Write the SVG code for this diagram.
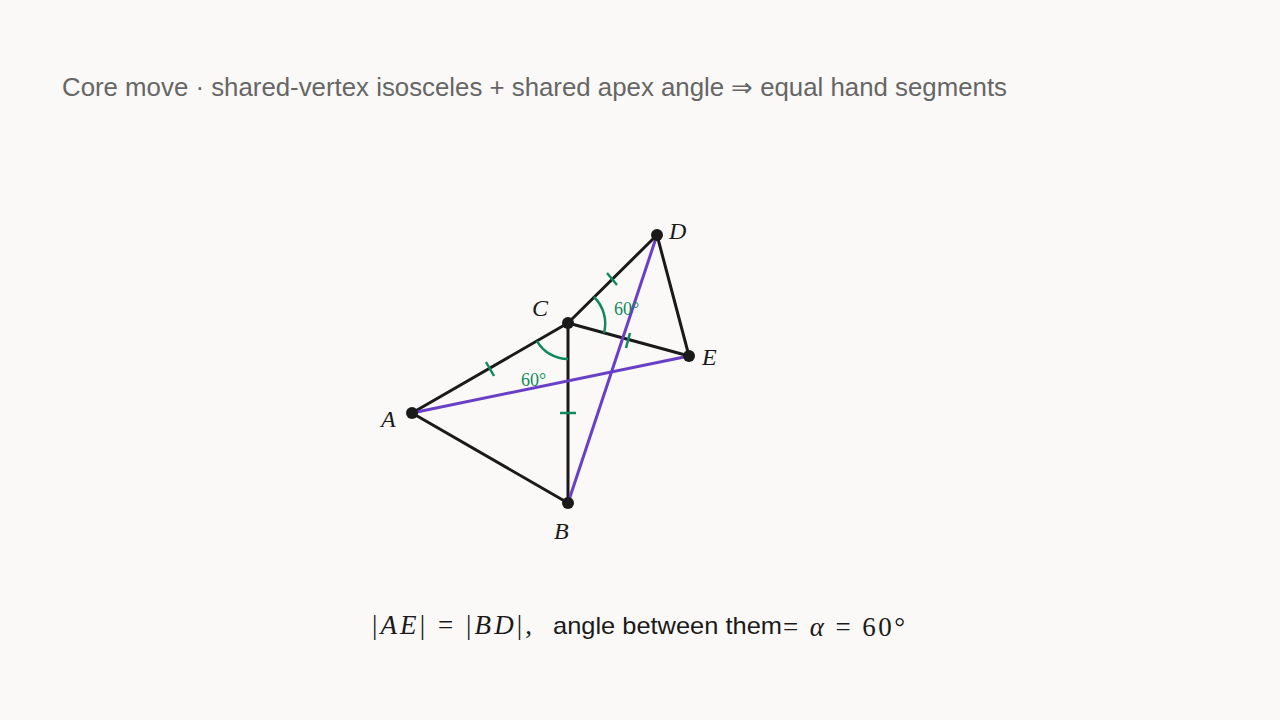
<svg xmlns="http://www.w3.org/2000/svg" width="1280" height="720" viewBox="0 0 1280 720">
<style>
.e{stroke:#1a1a1a;stroke-width:3;fill:none;stroke-linecap:round}
.p{stroke:#6a3fc8;stroke-width:3;fill:none;stroke-linecap:round}
.g{stroke:#0f8a5f;stroke-width:2.5;fill:none}
.pt{fill:#1a1a1a}
.lb{font-family:"Liberation Serif",serif;font-style:italic;font-size:24px;fill:#1a1a1a}
.ang{font-family:"Liberation Serif",serif;font-size:18px;fill:#0f8a5f}
</style>
<rect width="1280" height="720" fill="#faf9f7"/>
<text x="62" y="96" font-family="Liberation Sans, sans-serif" font-size="25" fill="#666" textLength="945" lengthAdjust="spacingAndGlyphs">Core move · shared-vertex isosceles + shared apex angle ⇒ equal hand segments</text>
<g id="connectors">
<line class="e" x1="412" y1="413" x2="568" y2="323"/>
<line class="e" x1="412" y1="413" x2="568" y2="503"/>
<line class="e" x1="568" y1="323" x2="568" y2="503"/>
<line class="e" x1="568" y1="323" x2="657" y2="235"/>
<line class="e" x1="568" y1="323" x2="689" y2="356"/>
<line class="e" x1="657" y1="235" x2="689" y2="356"/>
<line class="p" x1="412" y1="413" x2="689" y2="356"/>
<line class="p" x1="568" y1="503" x2="657" y2="235"/>
<path class="g" d="M537,341 A36,36 0 0 0 568,359"/>
<path class="g" d="M594,297 A37,37 0 0 1 604,333"/>
<line class="g" x1="486" y1="362" x2="494" y2="376"/>
<line class="g" x1="607" y1="273" x2="617" y2="285"/>
<line class="g" x1="630" y1="333" x2="626" y2="348"/>
<line class="g" x1="560" y1="413" x2="576" y2="413"/>
</g>
<g id="A"><circle class="pt" cx="412" cy="413" r="6"/><text class="lb" x="381" y="427">A</text></g>
<g id="B"><circle class="pt" cx="568" cy="503" r="6"/><text class="lb" x="554" y="539">B</text></g>
<g id="C"><circle class="pt" cx="568" cy="323" r="6"/><text class="lb" x="532" y="316">C</text></g>
<g id="D"><circle class="pt" cx="657" cy="235" r="6"/><text class="lb" x="669" y="239">D</text></g>
<g id="E"><circle class="pt" cx="689" cy="356" r="6"/><text class="lb" x="702" y="365">E</text></g>
<text class="ang" x="521" y="386">60°</text>
<text class="ang" x="614" y="315">60°</text>
<text x="372" y="634" font-family="Liberation Serif, serif" font-size="27" fill="#1a1a1a" textLength="160" lengthAdjust="spacing">|<tspan font-style="italic">AE</tspan>| = |<tspan font-style="italic">BD</tspan>|,</text>
<text x="553" y="634" font-family="Liberation Sans, sans-serif" font-size="24" fill="#1a1a1a" textLength="229" lengthAdjust="spacingAndGlyphs">angle between them</text>
<text x="783" y="636" font-family="Liberation Serif, serif" font-size="27" fill="#1a1a1a" textLength="122" lengthAdjust="spacing">= <tspan font-style="italic">α</tspan> = 60°</text>
</svg>
